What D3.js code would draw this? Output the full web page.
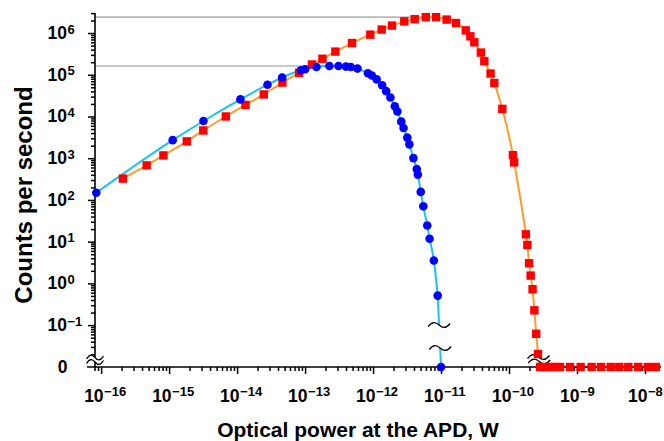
<!DOCTYPE html>
<html>
<head>
<meta charset="utf-8">
<script src="https://cdn.jsdelivr.net/npm/d3@7"></script>
<style>
  body { margin: 0; background: #fff; }
  svg { display: block; }
  text { font-family: "Liberation Sans", Arial, sans-serif; font-weight: bold; fill: #000; }
</style>
</head>
<body>
<script>
// photon counts vs optical power, two detectors (0 = no counts)
var blueX = [8.5e-17, 1.13e-15, 3.2e-15, 1.12e-14, 2.8e-14, 4.6e-14, 8.7e-14, 1.0e-13, 1.47e-13, 2.28e-13,
             3.1e-13, 4.0e-13, 4.7e-13, 5.9e-13, 8.4e-13, 9.6e-13, 1.13e-12, 1.36e-12, 1.56e-12, 1.8e-12,
             2.09e-12, 2.28e-12, 2.6e-12, 2.81e-12, 3.19e-12, 3.42e-12, 3.92e-12, 4.4e-12, 4.56e-12, 5.03e-12,
             5.49e-12, 6.27e-12, 6.78e-12, 7.84e-12, 8.94e-12, 1.0e-11];
var blueY = [149, 2710, 7800, 25700, 57700, 86100, 128000, 135500, 153800, 162500,
             162500, 157000, 152800, 140600, 108600, 95700, 77600, 56100, 40500, 28500,
             17600, 13200, 7520, 5310, 3110, 2150, 1005, 548, 405, 156,
             70.3, 24.4, 11.7, 3.55, 0.51, 0];

var redX = [2.09e-16, 4.67e-16, 8.24e-16, 1.82e-15, 3.18e-15, 6.84e-15, 1.33e-14, 2.47e-14, 4.64e-14, 8.17e-14,
            1.26e-13, 1.8e-13, 2.79e-13, 4.91e-13, 9.1e-13, 1.34e-12, 1.9e-12, 2.88e-12, 4.1e-12, 5.97e-12,
            8.44e-12, 1.21e-11, 1.66e-11, 2.31e-11, 2.7e-11, 3.09e-11, 3.85e-11, 4.33e-11, 5.35e-11, 6.08e-11,
            7.97e-11, 1.14e-10, 1.19e-10, 1.77e-10, 1.86e-10, 1.97e-10, 2.08e-10, 2.22e-10, 2.36e-10, 2.51e-10,
            2.67e-10, 2.86e-10, 3.38e-10, 4.01e-10, 4.75e-10, 5.62e-10, 7.89e-10, 1.13e-9, 1.64e-9, 2.25e-9,
            3.13e-9, 4.19e-9, 5.68e-9, 7.96e-9, 1.10e-8, 1.45e-8];
var redY = [325, 673, 1167, 2535, 4625, 10000, 18970, 33800, 65000, 111700,
            176300, 241700, 359000, 576000, 915000, 1.21e6, 1.51e6, 1.9e6, 2.15e6, 2.4e6,
            2.4e6, 2.1e6, 1.735e6, 1.16e6, 834000, 600000, 340000, 210500, 106900, 63200,
            15200, 1185, 795, 15.0, 8.34, 3.04, 1.54, 0.726, 0.226, 0.0619,
            0.0204, 0, 0, 0, 0, 0, 0, 0, 0, 0,
            0, 0, 0, 0, 0, 0];

var xTickExp = [-16, -15, -14, -13, -12, -11, -10, -9, -8];
var yTickExp = [-1, 0, 1, 2, 3, 4, 5, 6];

var W = 664, H = 441;
var zeroY = 367;
var yAxisX = 95;

var svg = d3.select("body").append("svg").attr("width", W).attr("height", H);

var x = d3.scaleLog().domain([6.2e-17, 1.72e-8]).range([87, 661]);
var y = d3.scaleLog().domain([Math.pow(10, -1.74), Math.pow(10, 6.48)]).range([356, 13]);

function py(v) { return v === 0 ? zeroY : y(v); }

function toPts(xs, ys) {
    return xs.map(function(d, i) { return [x(d), py(ys[i])]; });
}

// gray lines at the maximum of each curve
function maxLine(xs, ys) {
    var i = d3.maxIndex(ys);
    svg.append("line")
        .attr("x1", yAxisX).attr("x2", x(xs[i]))
        .attr("y1", y(ys[i])).attr("y2", y(ys[i]))
        .attr("stroke", "#b8b8b8").attr("stroke-width", 1.6);
}
maxLine(redX, redY);
maxLine(blueX, blueY);

var curve = d3.line().curve(d3.curveMonotoneX);
var straight = d3.line();

// point on a segment at a given pixel y
function atY(p0, p1, yy) {
    var t = (yy - p0[1]) / (p1[1] - p0[1]);
    return [p0[0] + t * (p1[0] - p0[0]), yy];
}

function tildePath(cx, cy, w) {
    var h = w / 2;
    return "M" + (cx - h) + "," + (cy + 1.5) +
        " C" + (cx - h * 0.6) + "," + (cy - 4) + " " + (cx - h * 0.3) + "," + (cy - 3) + " " + cx + "," + cy +
        " C" + (cx + h * 0.3) + "," + (cy + 3) + " " + (cx + h * 0.6) + "," + (cy + 4) + " " + (cx + h) + "," + (cy - 1.5);
}

function drawTilde(cx, cy, w) {
    svg.append("path").attr("d", tildePath(cx, cy, w))
        .attr("fill", "none").attr("stroke", "#000").attr("stroke-width", 1.3);
}

var breaks = [];

function drawSeries(xs, ys, color, yTop, yBot) {
    var pts = toPts(xs, ys);
    var nz = pts.filter(function(p, i) { return ys[i] !== 0; });
    var zs = pts.filter(function(p, i) { return ys[i] === 0; });
    svg.append("path").attr("d", curve(nz))
        .attr("fill", "none").attr("stroke", color).attr("stroke-width", 2);
    var p0 = nz[nz.length - 1], p1 = zs[0];
    var a = atY(p0, p1, yTop), b = atY(p0, p1, yBot);
    svg.append("path").attr("d", straight([p0, a]))
        .attr("fill", "none").attr("stroke", color).attr("stroke-width", 2);
    svg.append("path").attr("d", straight([b, p1]))
        .attr("fill", "none").attr("stroke", color).attr("stroke-width", 2);
    if (zs.length > 1) {
        svg.append("path").attr("d", straight(zs))
            .attr("fill", "none").attr("stroke", color).attr("stroke-width", 2);
    }
    breaks.push([a, b]);
}

drawSeries(redX, redY, "#ff9a2e", zeroY - 10, zeroY - 5.5);
drawSeries(blueX, blueY, "#19c3f0", zeroY - 42, zeroY - 19);

// axes
function minorVals(lo, hi) {
    var out = [];
    for (var e = -18; e <= 7; e++) {
        for (var m = 2; m <= 9; m++) {
            var v = m * Math.pow(10, e);
            if (v >= lo && v <= hi) out.push(v);
        }
    }
    return out;
}

var axisStyle = function(g) {
    g.select(".domain").remove();
    g.selectAll("line").attr("stroke", "#000").attr("stroke-width", 1.5);
    g.selectAll("text").remove();
};

var xMajor = xTickExp.map(function(e) { return Math.pow(10, e); });
var yMajor = yTickExp.map(function(e) { return Math.pow(10, e); });

svg.append("g").attr("transform", "translate(0," + zeroY + ")")
    .call(d3.axisBottom(x).tickValues(minorVals(7.9e-17, 1.72e-8)).tickSize(4).tickFormat(""))
    .call(axisStyle);
svg.append("g").attr("transform", "translate(0," + zeroY + ")")
    .call(d3.axisBottom(x).tickValues(xMajor).tickSize(7).tickFormat(""))
    .call(axisStyle);
svg.append("g").attr("transform", "translate(" + yAxisX + ",0)")
    .call(d3.axisLeft(y).tickValues(minorVals(0.0195, 3.02e6)).tickSize(4).tickFormat(""))
    .call(axisStyle);
svg.append("g").attr("transform", "translate(" + yAxisX + ",0)")
    .call(d3.axisLeft(y).tickValues(yMajor).tickSize(7).tickFormat(""))
    .call(axisStyle);

// axis lines
svg.append("line").attr("x1", 87).attr("x2", 661).attr("y1", zeroY).attr("y2", zeroY)
    .attr("stroke", "#000").attr("stroke-width", 1.6);
svg.append("line").attr("x1", yAxisX).attr("x2", yAxisX).attr("y1", 13).attr("y2", 357)
    .attr("stroke", "#000").attr("stroke-width", 1.6);
svg.append("line").attr("x1", yAxisX).attr("x2", yAxisX).attr("y1", 362).attr("y2", zeroY)
    .attr("stroke", "#000").attr("stroke-width", 1.6);

// break marks
drawTilde(yAxisX, 357.5, 17);
drawTilde(yAxisX, 362, 17);
breaks.forEach(function(br) {
    drawTilde(br[0][0], br[0][1], 22);
    drawTilde(br[1][0], br[1][1], 22);
});

// markers
svg.append("g").selectAll("rect").data(toPts(redX, redY)).join("rect")
    .attr("x", function(d) { return d[0] - 4.2; })
    .attr("y", function(d) { return d[1] - 4.2; })
    .attr("width", 8.4).attr("height", 8.4)
    .attr("fill", "#ff0000");
svg.append("g").selectAll("circle").data(toPts(blueX, blueY)).join("circle")
    .attr("cx", function(d) { return d[0]; })
    .attr("cy", function(d) { return d[1]; })
    .attr("r", 4.3)
    .attr("fill", "#0000ff");

// tick labels
function expText(e) { return e < 0 ? "\u2212" + (-e) : String(e); }

yTickExp.forEach(function(e) {
    var yy = y(Math.pow(10, e));
    svg.append("text").attr("x", 67).attr("y", yy + 6)
        .attr("text-anchor", "end").style("font-size", "17.5px").text("10");
    svg.append("text").attr("x", 67.5).attr("y", yy + 0.5)
        .style("font-size", "13px").text(expText(e));
});
svg.append("text").attr("x", 67.5).attr("y", zeroY + 6.2)
    .attr("text-anchor", "end").style("font-size", "17.5px").text("0");

xTickExp.forEach(function(e) {
    var xx = x(Math.pow(10, e));
    svg.append("text").attr("x", xx + 2.5).attr("y", 402)
        .attr("text-anchor", "end").style("font-size", "17.5px").text("10");
    svg.append("text").attr("x", xx + 3).attr("y", 396)
        .style("font-size", "13px").text(expText(e));
});

// axis titles
svg.append("text").attr("x", 358).attr("y", 437)
    .attr("text-anchor", "middle").style("font-size", "21px")
    .text("Optical power at the APD, W");
svg.append("text").attr("transform", "translate(32,195) rotate(-90)")
    .attr("text-anchor", "middle").style("font-size", "24px")
    .text("Counts per second");
</script>
</body>
</html>
